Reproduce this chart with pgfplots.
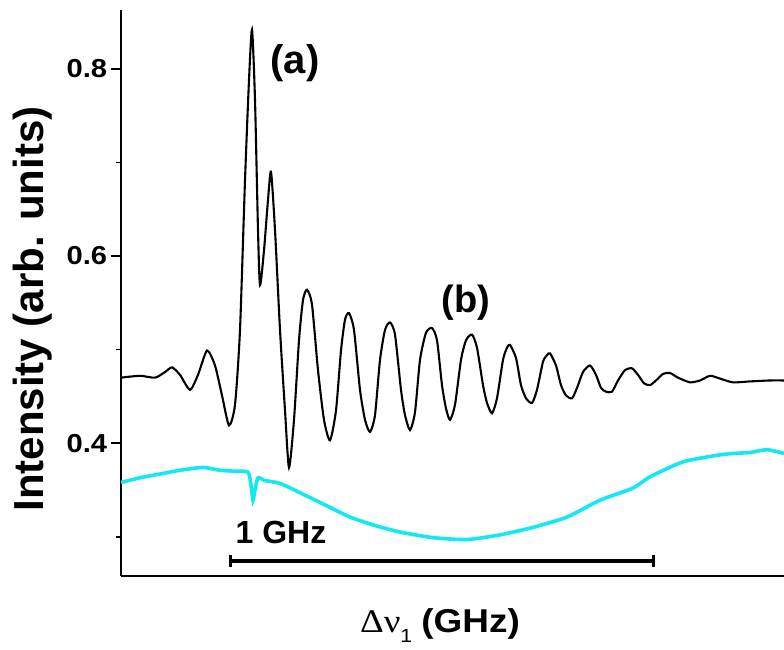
\documentclass[border=0pt]{standalone}
\usepackage{fontspec}
\setmainfont{Liberation Sans}
\newfontfamily\seriffont{Liberation Serif}
\usepackage{pgfplots}
\usepackage{pgfplotstable}
\pgfplotsset{compat=1.18}
\usetikzlibrary{arrows.meta}
\definecolor{cyanline}{RGB}{20,232,240}

\pgfplotstableread{
x y
0 0.470
19 0.472
34 0.470
44 0.476
51 0.481
59 0.473
69 0.457
77 0.473
86 0.499
94 0.483
101 0.451
108 0.419
114 0.441
119 0.521
124 0.681
128 0.788
131 0.842
134 0.767
137 0.628
139 0.569
143 0.606
147 0.660
150 0.690
154 0.628
159 0.521
164 0.435
168 0.374
173 0.425
178 0.510
182 0.553
186 0.564
191 0.548
197 0.478
203 0.425
209 0.403
215 0.435
220 0.499
224 0.532
228 0.539
233 0.521
239 0.457
244 0.425
249 0.412
254 0.430
259 0.489
264 0.521
269 0.529
274 0.516
280 0.457
284 0.430
289 0.414
294 0.433
299 0.489
305 0.518
311 0.523
316 0.510
321 0.462
325 0.437
329 0.425
334 0.441
340 0.489
345 0.510
351 0.516
356 0.502
362 0.462
366 0.443
371 0.432
376 0.448
382 0.489
386 0.502
389 0.505
395 0.491
400 0.462
405 0.448
411 0.443
416 0.457
422 0.487
426 0.494
429 0.496
435 0.483
440 0.462
445 0.451
451 0.448
456 0.459
462 0.476
469 0.483
475 0.473
480 0.459
485 0.455
491 0.455
497 0.467
504 0.478
511 0.480
517 0.473
523 0.464
529 0.462
535 0.467
542 0.474
549 0.475
557 0.470
569 0.465
579 0.467
589 0.472
599 0.469
612 0.465
629 0.466
649 0.467
663 0.467
}\blackdata

\pgfplotstableread{
x y
0 0.358
19 0.363
39 0.367
59 0.371
82 0.374
99 0.371
114 0.370
127 0.369
130 0.355
132 0.339
134 0.350
137 0.363
144 0.360
159 0.357
179 0.347
204 0.334
229 0.321
254 0.312
279 0.305
312 0.299
346 0.297
379 0.302
412 0.310
446 0.321
479 0.339
512 0.352
529 0.364
562 0.380
596 0.387
612 0.389
629 0.390
646 0.393
663 0.389
}\cyandata

\begin{document}
\begin{tikzpicture}
\useasboundingbox (-121pt,-74pt) rectangle (663pt,576pt);
\begin{axis}[
  at={(0pt,0pt)}, anchor=south west,
  scale only axis, width=663pt, height=566pt,
  xmin=0, xmax=663, ymin=0.258, ymax=0.863,
  axis lines*=left,
  axis line style={-, line width=1.8pt, black},
  xtick=\empty,
  ytick={0.4,0.6,0.8},
  minor ytick={0.3,0.5,0.7},
  ytick pos=left,
  tick align=outside,
  major tick length=10pt, minor tick length=5pt,
  every tick/.style={line width=1.6pt, black},
  /pgf/number format/assume math mode=true,
  /pgf/number format/fixed, /pgf/number format/fixed zerofill,
  /pgf/number format/precision=1,
  yticklabel style={font=\fontsize{26}{26}\selectfont\bfseries, xscale=1.12},
  ylabel={Intensity (arb. units)},
  ylabel style={at={(axis description cs:-0.1176,0.4717)}, anchor=base,
    font=\fontsize{42}{42}\selectfont\bfseries},
  xlabel={{\seriffont\fontsize{33}{33}\selectfont Δν}\raisebox{-10pt}{\fontsize{19}{19}\selectfont 1}\hspace{8pt}{\fontsize{33}{33}\selectfont\bfseries (GHz)}},
  xlabel style={at={(axis description cs:0.481,-0.1000)}, anchor=base, xscale=1.12},
]
\addplot[cyanline, line width=3.6pt, smooth, tension=0.4] table[x=x,y=y] {\cyandata};
\addplot[black, line width=2.1pt, smooth, tension=0.4] table[x=x,y=y] {\blackdata};
\addplot[black, line width=4pt, {Bar[width=12pt,line width=3pt]}-{Bar[width=12pt,line width=3pt]}] coordinates {(108,0.274) (534,0.274)};
\node[font=\fontsize{40}{40}\selectfont\bfseries] at (axis cs:174,0.806) {(a)};
\node[font=\fontsize{38}{38}\selectfont\bfseries] at (axis cs:345,0.550) {(b)};
\node[font=\fontsize{32}{32}\selectfont\bfseries] at (axis cs:160,0.304) {1 GHz};
\end{axis}
\end{tikzpicture}
\end{document}
